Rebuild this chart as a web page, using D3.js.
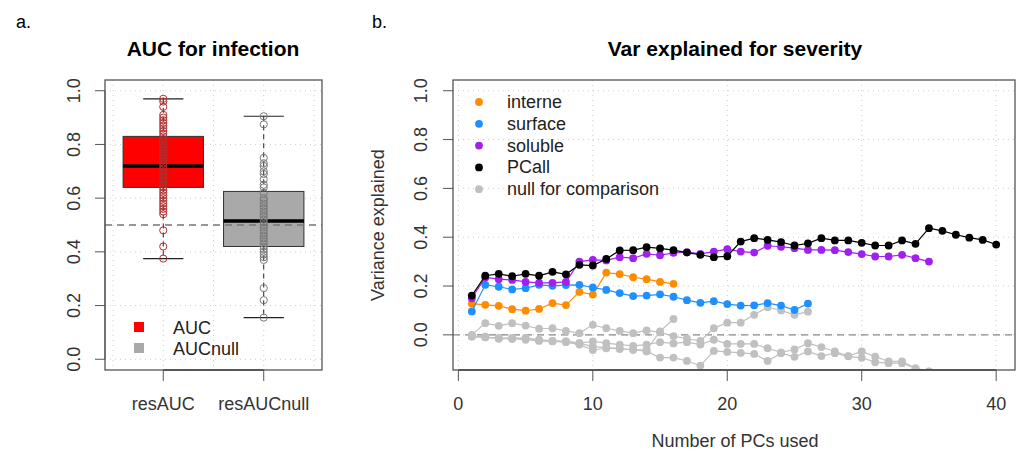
<!DOCTYPE html>
<html>
<head>
<meta charset="utf-8">
<script src="https://cdn.jsdelivr.net/npm/d3@7"></script>
<style>
  body { margin: 0; background: #fff; }
  svg { font-family: "Liberation Sans", Arial, sans-serif; }
</style>
</head>
<body>
<svg id="chart" width="1021" height="455"></svg>
<script>
// ---- data: panel a (boxplot) ----
var groups = ["resAUC", "resAUCnull"];
var boxLow = [0.375, 0.155];   // whisker ends
var boxQ1 = [0.64, 0.42];
var boxMed = [0.72, 0.515];
var boxQ3 = [0.83, 0.625];
var boxHigh = [0.97, 0.905];
var aucPoints = [0.97, 0.96, 0.94, 0.91, 0.9, 0.89, 0.88, 0.87, 0.86, 0.85, 0.84, 0.83, 0.82, 0.81, 0.8,
  0.79, 0.78, 0.77, 0.76, 0.75, 0.74, 0.73, 0.72, 0.71, 0.7, 0.69, 0.68, 0.67, 0.66, 0.65, 0.64, 0.63,
  0.62, 0.61, 0.6, 0.59, 0.58, 0.57, 0.56, 0.55, 0.54, 0.48, 0.42, 0.375];
var nullPoints = [0.905, 0.875, 0.75, 0.73, 0.72, 0.7, 0.69, 0.67, 0.65, 0.64, 0.62, 0.6, 0.59, 0.58,
  0.57, 0.56, 0.55, 0.54, 0.53, 0.52, 0.51, 0.5, 0.49, 0.48, 0.47, 0.46, 0.45, 0.44, 0.43, 0.42, 0.41,
  0.4, 0.39, 0.38, 0.37, 0.265, 0.22, 0.155];
var leftTicks = [0, 0.2, 0.4, 0.6, 0.8, 1.0];

// ---- data: panel b (variance explained vs number of PCs) ----
var interne = [0.128, 0.123, 0.119, 0.105, 0.099, 0.106, 0.13, 0.122, 0.176, 0.165, 0.255, 0.249, 0.236,
  0.228, 0.217, 0.209];
var surface = [0.096, 0.205, 0.197, 0.186, 0.191, 0.205, 0.201, 0.204, 0.205, 0.194, 0.184, 0.171, 0.159,
  0.161, 0.166, 0.156, 0.142, 0.131, 0.138, 0.126, 0.12, 0.121, 0.13, 0.12, 0.102, 0.128];
var soluble = [0.15, 0.235, 0.228, 0.225, 0.217, 0.213, 0.213, 0.217, 0.3, 0.307, 0.305, 0.318, 0.314,
  0.332, 0.326, 0.336, 0.339, 0.332, 0.341, 0.351, 0.341, 0.337, 0.365, 0.361, 0.355, 0.348, 0.348,
  0.347, 0.339, 0.331, 0.321, 0.321, 0.328, 0.314, 0.3];
var pcall = [0.161, 0.242, 0.25, 0.24, 0.25, 0.242, 0.258, 0.248, 0.287, 0.284, 0.311, 0.346, 0.347,
  0.359, 0.354, 0.347, 0.337, 0.328, 0.318, 0.322, 0.382, 0.396, 0.389, 0.38, 0.366, 0.375, 0.396,
  0.387, 0.387, 0.377, 0.366, 0.366, 0.387, 0.373, 0.437, 0.426, 0.41, 0.398, 0.389, 0.37];
var nullInterne = [-0.005, -0.01, -0.014, -0.016, -0.012, -0.02, -0.025, -0.027, -0.034, -0.048, -0.052,
  -0.055, -0.061, -0.061, 0.014, 0.065];
var nullSurface = [0.0, 0.048, 0.037, 0.048, 0.038, 0.025, 0.027, 0.016, 0.007, 0.041, 0.027, 0.016,
  0.007, 0.018, 0.01, -0.005, -0.016, -0.025, 0.027, 0.05, 0.05, 0.082, 0.113, 0.1, 0.082, 0.095];
var nullSoluble = [-0.008, -0.01, -0.014, -0.012, -0.015, -0.022, -0.025, -0.027, -0.034, -0.027, -0.034,
  -0.04, -0.045, -0.04, -0.03, -0.035, -0.03, -0.04, -0.02, -0.037, -0.037, -0.037, -0.055, -0.072,
  -0.06, -0.034, -0.05, -0.068, -0.087, -0.068, -0.089, -0.109, -0.109, -0.137, -0.15];
var nullPCall = [-0.005, -0.007, -0.016, -0.016, -0.02, -0.025, -0.027, -0.03, -0.04, -0.062, -0.055,
  -0.058, -0.061, -0.068, -0.093, -0.093, -0.107, -0.126, -0.066, -0.07, -0.074, -0.078, -0.107, -0.075,
  -0.09, -0.068, -0.087, -0.075, -0.088, -0.094, -0.112, -0.116, -0.116, -0.137, -0.15, -0.17, -0.18,
  -0.2, -0.21, -0.22];
var legendNames = ["interne", "surface", "soluble", "PCall", "null for comparison"];
var rightXTicks = [0, 10, 20, 30, 40];
var rightYTicks = [0, 0.2, 0.4, 0.6, 0.8, 1.0];

var svg = d3.select("#chart");
var fmt = d3.format(".1f");

// helper: R-style vertical axis labels
var yAxisLabels = function(g, scale, ticks, x) {
  ticks.forEach(function(t) {
    g.append("text").attr("transform", "translate(" + x + "," + scale(t) + ") rotate(-90)")
      .attr("text-anchor", "middle").attr("font-size", 18).attr("fill", "#333").text(fmt(t));
  });
};

// ================= panel a =================
var ax = d3.scaleLinear().domain([0.42, 2.58]).range([105, 322]);
var ay = d3.scaleLinear().domain([-0.04, 1.04]).range([370, 80]);
var A = svg.append("g");

svg.append("text").attr("x", 16).attr("y", 28).attr("font-size", 18).text("a.");
A.append("text").attr("x", 213).attr("y", 56).attr("text-anchor", "middle")
  .attr("font-size", 21).attr("font-weight", "bold").text("AUC for infection");

// grid
[0.5, 1, 1.5, 2, 2.5].forEach(function(v) {
  A.append("line").attr("x1", ax(v)).attr("x2", ax(v)).attr("y1", 80).attr("y2", 370)
    .attr("stroke", "#ccc").attr("stroke-dasharray", "1,4");
});
leftTicks.forEach(function(v) {
  A.append("line").attr("x1", 105).attr("x2", 322).attr("y1", ay(v)).attr("y2", ay(v))
    .attr("stroke", "#ccc").attr("stroke-dasharray", "1,4");
});

var fills = ["#ff0000", "#a9a9a9"];
var ptCol = ["#b03030", "#7a7a7a"];
var pts = [aucPoints, nullPoints];
groups.forEach(function(gname, i) {
  var cx = ax(i + 1), hw = ax(1.4) - ax(1), cw = ax(1.2) - ax(1);
  // whiskers (dashed)
  A.append("line").attr("x1", cx).attr("x2", cx).attr("y1", ay(boxHigh[i])).attr("y2", ay(boxQ3[i]))
    .attr("stroke", "#222").attr("stroke-dasharray", "5,4");
  A.append("line").attr("x1", cx).attr("x2", cx).attr("y1", ay(boxQ1[i])).attr("y2", ay(boxLow[i]))
    .attr("stroke", "#222").attr("stroke-dasharray", "5,4");
  [boxHigh[i], boxLow[i]].forEach(function(v) {
    A.append("line").attr("x1", cx - cw).attr("x2", cx + cw).attr("y1", ay(v)).attr("y2", ay(v))
      .attr("stroke", "#222").attr("stroke-width", 1.2);
  });
  A.append("rect").attr("x", cx - hw).attr("y", ay(boxQ3[i])).attr("width", 2 * hw)
    .attr("height", ay(boxQ1[i]) - ay(boxQ3[i])).attr("fill", fills[i]).attr("stroke", "#333");
  A.append("line").attr("x1", cx - hw).attr("x2", cx + hw).attr("y1", ay(boxMed[i])).attr("y2", ay(boxMed[i]))
    .attr("stroke", "#000").attr("stroke-width", 3.5);
  A.selectAll(null).data(pts[i]).enter().append("circle")
    .attr("cx", cx).attr("cy", function(d) { return ay(d); }).attr("r", 3.6)
    .attr("fill", "none").attr("stroke", ptCol[i]).attr("stroke-width", 1);
});

// reference line at 0.5
A.append("line").attr("x1", 105).attr("x2", 322).attr("y1", ay(0.5)).attr("y2", ay(0.5))
  .attr("stroke", "#777").attr("stroke-width", 1.3).attr("stroke-dasharray", "7,5");

// legend
var legA = [["AUC", fills[0]], ["AUCnull", fills[1]]];
legA.forEach(function(l, i) {
  A.append("rect").attr("x", 134).attr("y", 322 + i * 21).attr("width", 10).attr("height", 10).attr("fill", l[1]);
  A.append("text").attr("x", 173).attr("y", 334 + i * 21).attr("font-size", 18).attr("fill", "#222").text(l[0]);
});

// frame + axes
A.append("rect").attr("x", 105).attr("y", 80).attr("width", 217).attr("height", 290)
  .attr("fill", "none").attr("stroke", "#555").attr("stroke-width", 1.3);
A.append("line").attr("x1", 105).attr("x2", 105).attr("y1", ay(0)).attr("y2", ay(1)).attr("stroke", "#555");
leftTicks.forEach(function(v) {
  A.append("line").attr("x1", 95).attr("x2", 105).attr("y1", ay(v)).attr("y2", ay(v)).attr("stroke", "#555");
});
yAxisLabels(A, ay, leftTicks, 80);
A.append("line").attr("x1", ax(1)).attr("x2", ax(2)).attr("y1", 370).attr("y2", 370).attr("stroke", "#444").attr("stroke-width", 1.6);
groups.forEach(function(gname, i) {
  A.append("line").attr("x1", ax(i + 1)).attr("x2", ax(i + 1)).attr("y1", 370).attr("y2", 381).attr("stroke", "#555");
  A.append("text").attr("x", ax(i + 1)).attr("y", 410).attr("text-anchor", "middle")
    .attr("font-size", 18).attr("fill", "#333").text(gname);
});

// ================= panel b =================
var bx = d3.scaleLinear().domain([-0.4, 41.4]).range([453, 1015]);
var by = d3.scaleLinear().domain([-0.144, 1.044]).range([370, 80]);
var B = svg.append("g");

svg.append("text").attr("x", 372).attr("y", 28).attr("font-size", 18).text("b.");
B.append("text").attr("x", 735).attr("y", 56).attr("text-anchor", "middle")
  .attr("font-size", 21).attr("font-weight", "bold").text("Var explained for severity");

rightXTicks.forEach(function(v) {
  B.append("line").attr("x1", bx(v)).attr("x2", bx(v)).attr("y1", 80).attr("y2", 370)
    .attr("stroke", "#ccc").attr("stroke-dasharray", "1,4");
});
rightYTicks.forEach(function(v) {
  B.append("line").attr("x1", 453).attr("x2", 1015).attr("y1", by(v)).attr("y2", by(v))
    .attr("stroke", "#ccc").attr("stroke-dasharray", "1,4");
});
B.append("line").attr("x1", 453).attr("x2", 1015).attr("y1", by(0)).attr("y2", by(0))
  .attr("stroke", "#888").attr("stroke-width", 1.3).attr("stroke-dasharray", "7,5");

svg.append("clipPath").attr("id", "clipB").append("rect")
  .attr("x", 453).attr("y", 80).attr("width", 562).attr("height", 290);
var plotB = B.append("g").attr("clip-path", "url(#clipB)");

var grey = "#c0c0c0";
var series = [
  { vals: nullInterne, col: grey }, { vals: nullSurface, col: grey },
  { vals: nullSoluble, col: grey }, { vals: nullPCall, col: grey },
  { vals: interne, col: "#ff8c00" }, { vals: surface, col: "#1e90ff" },
  { vals: soluble, col: "#a020f0" }, { vals: pcall, col: "#000000" }
];
var line = d3.line().x(function(d, i) { return bx(i + 1); }).y(function(d) { return by(d); });
series.forEach(function(s) {
  plotB.append("path").datum(s.vals).attr("d", line).attr("fill", "none")
    .attr("stroke", s.col).attr("stroke-width", 1.2);
  plotB.selectAll(null).data(s.vals).enter().append("circle")
    .attr("cx", function(d, i) { return bx(i + 1); }).attr("cy", function(d) { return by(d); })
    .attr("r", 3.9).attr("fill", s.col);
});

// legend
var legCols = ["#ff8c00", "#1e90ff", "#a020f0", "#000000", grey];
legendNames.forEach(function(n, i) {
  B.append("circle").attr("cx", 479).attr("cy", 102 + i * 21.8).attr("r", 3.9).attr("fill", legCols[i]);
  B.append("text").attr("x", 507).attr("y", 108 + i * 21.8).attr("font-size", 18).attr("fill", "#222").text(n);
});

// frame + axes
B.append("rect").attr("x", 453).attr("y", 80).attr("width", 562).attr("height", 290)
  .attr("fill", "none").attr("stroke", "#555").attr("stroke-width", 1.3);
rightYTicks.forEach(function(v) {
  B.append("line").attr("x1", 443).attr("x2", 453).attr("y1", by(v)).attr("y2", by(v)).attr("stroke", "#555");
});
yAxisLabels(B, by, rightYTicks, 427);
B.append("line").attr("x1", bx(0)).attr("x2", bx(40)).attr("y1", 370).attr("y2", 370).attr("stroke", "#444").attr("stroke-width", 1.6);
rightXTicks.forEach(function(v) {
  B.append("line").attr("x1", bx(v)).attr("x2", bx(v)).attr("y1", 370).attr("y2", 381).attr("stroke", "#555");
  B.append("text").attr("x", bx(v)).attr("y", 410).attr("text-anchor", "middle")
    .attr("font-size", 18).attr("fill", "#333").text(v);
});
B.append("text").attr("x", 735).attr("y", 447).attr("text-anchor", "middle")
  .attr("font-size", 18).attr("fill", "#333").text("Number of PCs used");
B.append("text").attr("transform", "translate(384,225) rotate(-90)").attr("text-anchor", "middle")
  .attr("font-size", 18).attr("fill", "#333").text("Variance explained");
</script>
</body>
</html>
